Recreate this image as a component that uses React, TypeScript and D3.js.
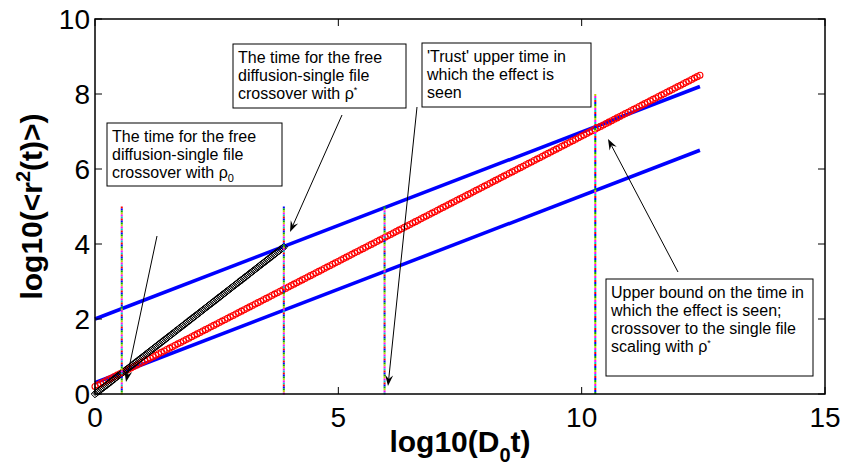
import React from "react";
import * as d3 from "d3";

// Axes
const X_DOMAIN = [0, 15];
const Y_DOMAIN = [0, 10];
const X_TICKS = [0, 5, 10, 15];
const Y_TICKS = [0, 2, 4, 6, 8, 10];

// Straight-line series in log-log coordinates (start / end values)
const LINE_X = [0, 12.43];
const UPPER_BLUE_Y = [2.0, 8.2];
const LOWER_BLUE_Y = [0.3, 6.5];
const RED_Y = [0.2, 8.5];
const BLACK_X = [0, 3.88];
const BLACK_Y = [0, 3.92];

// Vertical crossover markers
const CROSS_X = [0.55, 3.88, 5.95, 10.28];
const CROSS_TOP = [5, 5, 5, 8];

const W = 843;
const H = 469;
const M = { left: 95, right: 825, top: 19, bottom: 394 };

const FONT = "'Liberation Sans', Arial, Helvetica, sans-serif";
const DOT_COLORS = ["#ff0000", "#0000ff", "#00b000", "#c8c800", "#ff00ff", "#00c8c8"];

const x = d3.scaleLinear().domain(X_DOMAIN).range([M.left, M.right]);
const y = d3.scaleLinear().domain(Y_DOMAIN).range([M.bottom, M.top]);

// Points spaced evenly along a pixel segment, used to place marker glyphs
function alongSegment(x0: number, y0: number, x1: number, y1: number, step: number) {
  const len = Math.hypot(x1 - x0, y1 - y0);
  const n = Math.floor(len / step);
  const pts: [number, number][] = [];
  for (let i = 0; i <= n; i++) {
    const t = i / n;
    pts.push([x0 + (x1 - x0) * t, y0 + (y1 - y0) * t]);
  }
  return pts;
}

function Arrow({ x1, y1, x2, y2 }: { x1: number; y1: number; x2: number; y2: number }) {
  const ang = Math.atan2(y2 - y1, x2 - x1);
  const L = 11;
  const Wd = 4;
  const ux = Math.cos(ang);
  const uy = Math.sin(ang);
  const px = -uy;
  const py = ux;
  const bx = x2 - ux * L;
  const by = y2 - uy * L;
  const nx = x2 - ux * L * 0.65;
  const ny = y2 - uy * L * 0.65;
  const head = `M${x2},${y2} L${bx + px * Wd},${by + py * Wd} L${nx},${ny} L${bx - px * Wd},${by - py * Wd} Z`;
  return (
    <g>
      <line x1={x1} y1={y1} x2={nx} y2={ny} stroke="#000" strokeWidth={1} />
      <path d={head} fill="#000" />
    </g>
  );
}

function Box({ bx, by, bw, bh, children }: { bx: number; by: number; bw: number; bh: number; children: React.ReactNode }) {
  return (
    <g>
      <rect x={bx} y={by} width={bw} height={bh} fill="#fff" stroke="#000" strokeWidth={1} />
      <text x={bx + 5} y={by + 19} fontFamily={FONT} fontSize={16} fill="#000">
        {children}
      </text>
    </g>
  );
}

export default function App() {
  const line = d3.line<[number, number]>().x((d) => x(d[0])).y((d) => y(d[1]));

  const upper: [number, number][] = [[LINE_X[0], UPPER_BLUE_Y[0]], [LINE_X[1], UPPER_BLUE_Y[1]]];
  const lower: [number, number][] = [[LINE_X[0], LOWER_BLUE_Y[0]], [LINE_X[1], LOWER_BLUE_Y[1]]];

  const redPts = alongSegment(x(LINE_X[0]), y(RED_Y[0]), x(LINE_X[1]), y(RED_Y[1]), 3.1);
  const blackPts = alongSegment(x(BLACK_X[0]), y(BLACK_Y[0]), x(BLACK_X[1]), y(BLACK_Y[1]), 1.7);

  const tick = 7;
  const dm = 3.8;

  return (
    <svg width={W} height={H} style={{ position: "absolute", left: 0, top: 0, background: "#fff" }}>
      <rect x={0} y={0} width={W} height={H} fill="#fff" />

      {/* blue reference lines */}
      <path d={line(upper) || ""} stroke="#0000ff" strokeWidth={3.5} fill="none" />
      <path d={line(lower) || ""} stroke="#0000ff" strokeWidth={3.5} fill="none" />

      {/* red circles */}
      <g fill="none" stroke="#ff0000" strokeWidth={1.1}>
        {redPts.map((p, i) => (
          <circle key={i} cx={p[0]} cy={p[1]} r={3} />
        ))}
      </g>

      {/* black diamonds */}
      <g fill="none" stroke="#000" strokeWidth={1}>
        {blackPts.map((p, i) => (
          <path key={i} d={`M${p[0]},${p[1] - dm} L${p[0] + dm},${p[1]} L${p[0]},${p[1] + dm} L${p[0] - dm},${p[1]} Z`} />
        ))}
      </g>

      {/* multicolour dotted crossover lines */}
      {CROSS_X.map((cx, i) => {
        const top = y(CROSS_TOP[i]);
        const bot = y(0);
        const segs = [];
        let k = 0;
        for (let yy = top; yy < bot; yy += 2, k++) {
          segs.push(
            <rect key={k} x={x(cx) - 1} y={yy} width={2} height={2} fill={DOT_COLORS[(k + i) % DOT_COLORS.length]} />
          );
        }
        return <g key={i}>{segs}</g>;
      })}

      {/* frame */}
      <rect x={M.left} y={M.top} width={M.right - M.left} height={M.bottom - M.top} fill="none" stroke="#000" strokeWidth={1.5} />

      {/* ticks */}
      {X_TICKS.map((t) => (
        <g key={"xt" + t}>
          <line x1={x(t)} x2={x(t)} y1={M.bottom} y2={M.bottom - tick} stroke="#000" strokeWidth={1} />
          <line x1={x(t)} x2={x(t)} y1={M.top} y2={M.top + tick} stroke="#000" strokeWidth={1} />
          <text x={x(t)} y={427} textAnchor="middle" fontFamily={FONT} fontSize={28} fill="#000">
            {t}
          </text>
        </g>
      ))}
      {Y_TICKS.map((t) => (
        <g key={"yt" + t}>
          <line x1={M.left} x2={M.left + tick} y1={y(t)} y2={y(t)} stroke="#000" strokeWidth={1} />
          <line x1={M.right} x2={M.right - tick} y1={y(t)} y2={y(t)} stroke="#000" strokeWidth={1} />
          <text x={90} y={y(t) + 10} textAnchor="end" fontFamily={FONT} fontSize={28} fill="#000">
            {t}
          </text>
        </g>
      ))}

      {/* axis labels */}
      <text x={(M.left + M.right) / 2} y={452} textAnchor="middle" fontFamily={FONT} fontSize={30} fontWeight="bold" fill="#000">
        log10(D<tspan fontSize={20} dy={10}>0</tspan>
        <tspan dy={-10}>t)</tspan>
      </text>
      <text
        transform={`translate(42, ${(M.top + M.bottom) / 2}) rotate(-90)`}
        textAnchor="middle"
        fontFamily={FONT}
        fontSize={30}
        fontWeight="bold"
        fill="#000"
      >
        log10(&lt;r<tspan fontSize={20} dy={-12}>2</tspan>
        <tspan dy={12}>(t)&gt;)</tspan>
      </text>

      {/* annotations */}
      <Box bx={107} by={123} bw={175} bh={63}>
        <tspan>The time for the free</tspan>
        <tspan x={112} dy={18}>diffusion-single file</tspan>
        <tspan x={112} dy={18}>crossover with ρ</tspan>
        <tspan fontSize={11} dy={4}>0</tspan>
      </Box>
      <Box bx={233} by={44} bw={173} bh={64}>
        <tspan>The time for the free</tspan>
        <tspan x={238} dy={18}>diffusion-single file</tspan>
        <tspan x={238} dy={18}>crossover with ρ</tspan>
        <tspan fontSize={9} dy={-6}>*</tspan>
      </Box>
      <Box bx={422} by={43} bw={169} bh={64}>
        <tspan>'Trust' upper time in</tspan>
        <tspan x={427} dy={18}>which the effect is</tspan>
        <tspan x={427} dy={18}>seen</tspan>
      </Box>
      <Box bx={606} by={279} bw={207} bh={97}>
        <tspan>Upper bound on the time in</tspan>
        <tspan x={611} dy={18}>which the effect is seen;</tspan>
        <tspan x={611} dy={18}>crossover to the single file</tspan>
        <tspan x={611} dy={18}>scaling with ρ</tspan>
        <tspan fontSize={9} dy={-6}>*</tspan>
      </Box>

      <Arrow x1={157} y1={236} x2={126} y2={382} />
      <Arrow x1={342} y1={115} x2={290} y2={232} />
      <Arrow x1={417} y1={107} x2={388} y2={386} />
      <Arrow x1={678} y1={272} x2={608} y2={139} />
    </svg>
  );
}
